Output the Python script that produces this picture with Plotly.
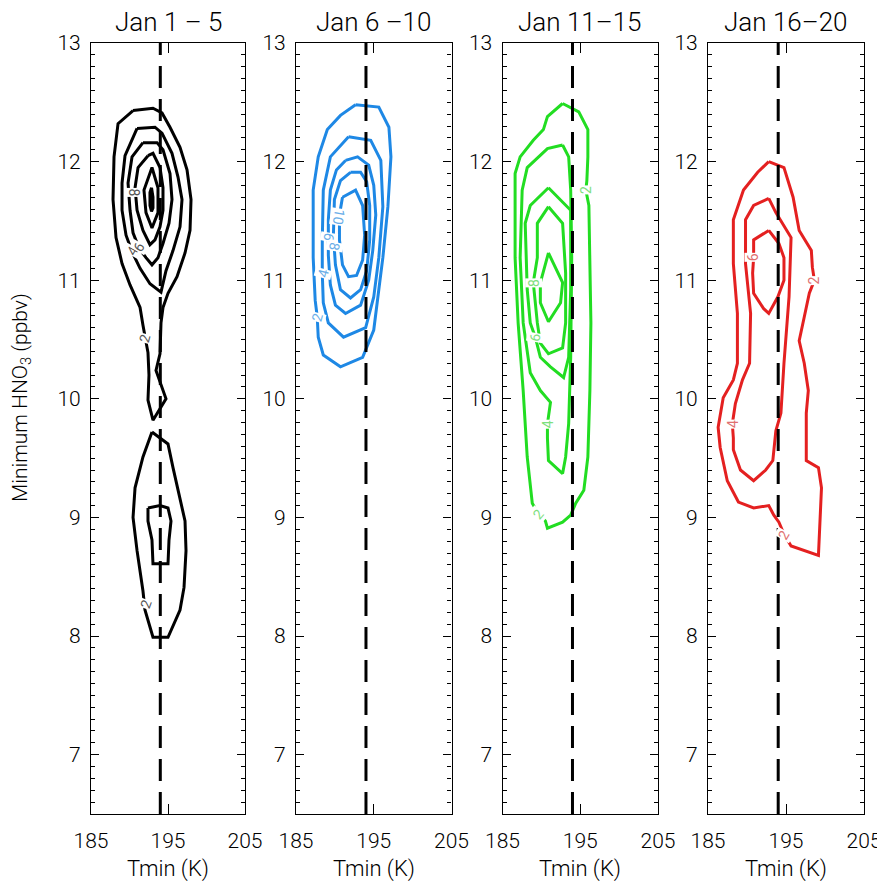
import plotly.graph_objects as go

# ---------------- data ----------------
PANEL_TITLES = ["Jan 1 \u2013 5", "Jan 6 \u201310", "Jan 11\u201315", "Jan 16\u201320"]
PANEL_COLORS = ["#000000", "#1e88e5", "#22dd22", "#e42020"]
LABEL_COLORS = ["#555555", "#6aaee8", "#7ee07e", "#e07070"]
T_RANGE = [185, 205]
HNO3_RANGE = [6.5, 13]
T_TICKS = [185, 195, 205]
HNO3_TICKS = [7, 8, 9, 10, 11, 12, 13]
T_REF = 194.0  # dashed reference temperature (K)

# ---- Panel 1 (Jan 1-5), upper lobe ----
P1_L2_UP_T = [190.46, 193.05, 194.22, 195.26, 196.56, 197.47, 197.99, 197.86, 197.21, 196.17, 195.00, 194.35,
              194.09, 193.96, 193.44, 194.74, 193.05, 192.40, 192.53, 192.40, 191.75, 191.37, 190.07, 189.03,
              188.25, 187.86, 187.99, 188.51]
P1_L2_UP_H = [12.43, 12.45, 12.41, 12.29, 12.12, 11.93, 11.68, 11.42, 11.23, 11.03, 10.89, 10.77,
              10.64, 10.38, 10.24, 10.00, 9.82, 9.99, 10.20, 10.39, 10.62, 10.77, 10.96, 11.14,
              11.36, 11.68, 12.04, 12.32]
P1_L4_T = [190.98, 193.31, 194.22, 195.52, 196.30, 196.82, 196.56, 195.65, 194.74, 194.09, 192.66, 191.37,
           190.33, 189.55, 189.03, 189.03, 189.42]
P1_L4_H = [12.28, 12.29, 12.24, 12.07, 11.87, 11.68, 11.45, 11.25, 11.08, 10.90, 10.97, 11.10,
           11.24, 11.38, 11.59, 11.82, 12.05]
P1_L6_T = [191.75, 193.57, 194.35, 195.26, 195.52, 195.13, 194.35, 193.70, 192.92, 192.14, 191.24, 190.46,
           190.07, 189.81, 190.33]
P1_L6_H = [12.16, 12.16, 12.10, 11.90, 11.68, 11.48, 11.31, 11.19, 11.13, 11.19, 11.27, 11.40,
           11.59, 11.82, 12.04]
P1_L8_T = [192.40, 193.05, 193.96, 194.35, 194.35, 193.96, 193.31, 192.66, 191.75, 190.98, 190.72, 191.11]
P1_L8_H = [12.05, 12.07, 11.95, 11.78, 11.59, 11.45, 11.34, 11.30, 11.42, 11.59, 11.78, 11.95]
P1_L10_T = [192.92, 193.70, 193.70, 192.92, 192.14, 191.88]
P1_L10_H = [11.95, 11.78, 11.57, 11.44, 11.57, 11.76]
P1_L12_T = [192.86, 193.05, 193.05, 192.86, 192.66, 192.66]
P1_L12_H = [11.78, 11.70, 11.61, 11.58, 11.63, 11.74]
# ---- Panel 1, lower lobe ----
P1_L2_LO_T = [192.92, 195.00, 195.65, 196.56, 197.21, 197.34, 197.08, 196.56, 195.00, 193.05, 192.66, 192.01,
              191.75, 190.98, 190.46, 190.72, 191.75]
P1_L2_LO_H = [9.72, 9.62, 9.42, 9.17, 8.97, 8.72, 8.41, 8.22, 7.99, 7.99, 8.07, 8.22,
              8.38, 8.72, 9.00, 9.25, 9.51]
P1_L4_LO_T = [192.40, 193.96, 195.00, 195.39, 195.13, 195.00, 193.05, 192.92, 192.40]
P1_L4_LO_H = [9.08, 9.10, 9.08, 8.97, 8.81, 8.61, 8.61, 8.81, 8.97]

# ---- Panel 2 (Jan 6-10) ----
P2_L2_T = [192.66, 195.65, 196.95, 197.21, 196.82, 196.17, 195.65, 195.00, 193.57, 190.72, 188.51, 187.86,
           187.73, 187.47, 187.21, 187.21, 187.86, 189.03, 190.72]
P2_L2_H = [12.48, 12.46, 12.29, 12.04, 11.62, 11.19, 10.92, 10.58, 10.35, 10.27, 10.37, 10.52,
           10.69, 10.83, 11.19, 11.76, 12.04, 12.27, 12.39]
P2_L4_T = [191.76, 194.61, 195.91, 196.17, 195.65, 195.00, 193.96, 191.11, 189.16, 188.51, 188.38, 188.38,
           188.51, 189.42]
P2_L4_H = [12.21, 12.18, 12.01, 11.62, 11.19, 10.86, 10.60, 10.52, 10.64, 10.81, 11.06, 11.34,
           11.76, 12.04]
P2_L6_T = [191.37, 192.92, 194.35, 195.00, 195.26, 194.87, 194.35, 193.31, 191.37, 190.07, 189.42, 189.16,
           189.16, 189.42, 190.20]
P2_L6_H = [12.01, 12.04, 11.97, 11.80, 11.55, 11.25, 11.00, 10.79, 10.72, 10.79, 10.96, 11.21,
           11.51, 11.76, 11.93]
P2_L8_T = [192.01, 193.31, 194.09, 194.48, 194.48, 194.09, 193.31, 192.01, 190.72, 190.07, 189.81, 189.94,
           190.72]
P2_L8_H = [11.91, 11.91, 11.83, 11.63, 11.34, 11.08, 10.92, 10.85, 10.92, 11.13, 11.38, 11.68,
           11.84]
P2_L10_T = [190.98, 192.66, 193.57, 193.83, 193.57, 192.79, 191.76, 190.98, 190.59, 190.59]
P2_L10_H = [11.70, 11.76, 11.63, 11.38, 11.17, 11.04, 11.03, 11.13, 11.34, 11.55]

# ---- Panel 3 (Jan 11-15) ----
P3_L2_T = [192.73, 194.81, 195.98, 195.98, 195.85, 195.72, 196.11, 196.24, 196.37, 196.24, 195.98, 195.46,
           194.42, 193.77, 192.73, 190.78, 190.52, 189.61, 188.83, 188.18, 187.66, 187.01, 186.62, 186.62,
           187.27, 188.96, 190.26, 190.78]
P3_L2_H = [12.49, 12.42, 12.27, 12.04, 11.84, 11.76, 11.63, 11.19, 10.64, 10.07, 9.51, 9.23,
           9.12, 9.02, 8.96, 8.91, 8.97, 9.03, 9.12, 9.51, 10.07, 10.64, 11.19, 11.90,
           12.04, 12.18, 12.27, 12.38]
P3_L4_T = [192.73, 190.78, 188.18, 187.53, 187.27, 187.66, 188.57, 189.87, 191.17, 190.78, 190.78, 190.91,
           192.73, 193.12, 193.51, 193.77, 193.90, 193.77, 193.51]
P3_L4_H = [12.14, 12.11, 11.95, 11.76, 11.19, 10.64, 10.22, 10.07, 9.97, 9.79, 9.67, 9.48,
           9.37, 9.51, 9.79, 10.35, 11.19, 11.76, 12.04]
P3_L6_T = [190.91, 193.77, 193.77, 193.51, 192.86, 191.17, 189.87, 189.22, 188.57, 188.18, 187.92, 188.57]
P3_L6_H = [11.78, 11.59, 10.92, 10.35, 10.18, 10.27, 10.35, 10.52, 10.64, 10.92, 11.48, 11.63]
P3_L8_T = [190.91, 192.73, 193.12, 193.12, 192.73, 190.91, 189.87, 189.48, 188.96, 189.48, 189.48]
P3_L8_H = [11.62, 11.48, 11.06, 10.64, 10.43, 10.38, 10.47, 10.64, 10.98, 11.19, 11.48]
P3_L10_T = [190.91, 192.73, 192.47, 190.91, 189.87, 189.87]
P3_L10_H = [11.23, 10.98, 10.81, 10.65, 10.81, 10.98]

# ---- Panel 4 (Jan 16-20) ----
P4_L2_T = [192.79, 194.74, 195.91, 196.69, 198.25, 198.38, 198.64, 197.99, 197.34, 196.69, 197.34, 197.86,
           197.60, 197.60, 199.16, 199.55, 199.16, 195.65, 194.74, 194.09, 193.44, 192.79, 190.85, 188.90,
           187.47, 186.56, 186.30, 186.95, 188.25, 188.77, 188.77, 188.25, 188.25, 189.55, 191.37]
P4_L2_H = [12.00, 11.95, 11.70, 11.42, 11.25, 11.11, 11.00, 10.89, 10.69, 10.49, 10.30, 10.07,
           9.88, 9.48, 9.42, 9.25, 8.68, 8.76, 8.86, 8.96, 9.02, 9.10, 9.08, 9.13,
           9.31, 9.59, 9.76, 10.01, 10.16, 10.30, 10.72, 11.14, 11.51, 11.76, 11.91]
P4_L4_T = [192.79, 193.70, 195.65, 195.39, 194.74, 194.35, 193.70, 193.31, 192.40, 190.85, 189.16, 188.25,
           188.25, 188.12, 188.51, 189.42, 190.33, 190.46, 189.81, 189.81, 190.85]
P4_L4_H = [11.69, 11.57, 11.36, 10.86, 10.30, 9.88, 9.73, 9.48, 9.40, 9.31, 9.40, 9.57,
           9.67, 9.79, 9.96, 10.16, 10.30, 10.72, 11.14, 11.51, 11.63]
P4_L6_T = [192.79, 194.09, 194.74, 194.74, 193.96, 192.79, 192.14, 190.85, 190.72, 190.85, 190.85]
P4_L6_H = [11.42, 11.31, 11.19, 11.00, 10.86, 10.72, 10.76, 10.89, 11.06, 11.19, 11.34]

# ---- contour labels (text, T, HNO3, angle) ----
P1_LAB_TEXT = ["8", "4", "6", "2", "2"]
P1_LAB_T = [190.46, 190.33, 191.24, 192.01, 192.14]
P1_LAB_H = [11.74, 11.25, 11.28, 10.51, 8.27]
P1_LAB_ANG = [90, -60, -60, -75, -70]
P2_LAB_TEXT = ["10", "6", "8", "4", "2"]
P2_LAB_T = [190.46, 189.29, 189.94, 188.51, 187.73]
P2_LAB_H = [11.53, 11.36, 11.28, 11.06, 10.69]
P2_LAB_ANG = [100, 100, 100, -75, -75]
P3_LAB_TEXT = ["2", "8", "6", "4", "2"]
P3_LAB_T = [195.72, 188.96, 189.22, 190.78, 189.61]
P3_LAB_H = [11.76, 10.98, 10.52, 9.79, 9.03]
P3_LAB_ANG = [-90, -90, -80, -90, -50]
P4_LAB_TEXT = ["6", "2", "4", "2"]
P4_LAB_T = [190.72, 198.64, 188.12, 194.74]
P4_LAB_H = [11.19, 11.00, 9.79, 8.85]
P4_LAB_ANG = [-90, -90, -90, -60]

PANEL_CONTOURS = [
    [(P1_L2_UP_T, P1_L2_UP_H), (P1_L4_T, P1_L4_H), (P1_L6_T, P1_L6_H), (P1_L8_T, P1_L8_H),
     (P1_L10_T, P1_L10_H), (P1_L12_T, P1_L12_H), (P1_L2_LO_T, P1_L2_LO_H), (P1_L4_LO_T, P1_L4_LO_H)],
    [(P2_L2_T, P2_L2_H), (P2_L4_T, P2_L4_H), (P2_L6_T, P2_L6_H), (P2_L8_T, P2_L8_H), (P2_L10_T, P2_L10_H)],
    [(P3_L2_T, P3_L2_H), (P3_L4_T, P3_L4_H), (P3_L6_T, P3_L6_H), (P3_L8_T, P3_L8_H), (P3_L10_T, P3_L10_H)],
    [(P4_L2_T, P4_L2_H), (P4_L4_T, P4_L4_H), (P4_L6_T, P4_L6_H)],
]
PANEL_LABELS = [
    (P1_LAB_TEXT, P1_LAB_T, P1_LAB_H, P1_LAB_ANG),
    (P2_LAB_TEXT, P2_LAB_T, P2_LAB_H, P2_LAB_ANG),
    (P3_LAB_TEXT, P3_LAB_T, P3_LAB_H, P3_LAB_ANG),
    (P4_LAB_TEXT, P4_LAB_T, P4_LAB_H, P4_LAB_ANG),
]

# ---------------- layout ----------------
OFF = 8                      # page body margin of the browser
W, H = 885 - OFF, 888 - OFF  # figure size so that it fits the window
X_DOMAINS = [(91, 245), (296, 451.5), (502.5, 658), (708, 864)]  # target page pixels
Y_TOP, Y_BOT = 43, 814
FONT = "Roboto"
FW = 300


def px(xp):
    return (xp - OFF) / W


def py(yp):
    return 1 - (yp - OFF) / H


fig = go.Figure()
annotations = []

for i in range(4):
    n = "" if i == 0 else str(i + 1)
    xa, ya = "x" + n, "y" + n
    col = PANEL_COLORS[i]
    for (tt, hh) in PANEL_CONTOURS[i]:
        fig.add_trace(go.Scatter(x=list(tt) + [tt[0]], y=list(hh) + [hh[0]], mode="lines",
                                 line=dict(color=col, width=3), xaxis=xa, yaxis=ya,
                                 showlegend=False, hoverinfo="skip"))
    # dashed reference line
    fig.add_trace(go.Scatter(x=[T_REF, T_REF], y=HNO3_RANGE, mode="lines",
                             line=dict(color="black", width=3, dash="22px,11px"),
                             xaxis=xa, yaxis=ya, showlegend=False, hoverinfo="skip"))
    txt, lt, lh, la = PANEL_LABELS[i]
    for s, t, h, a in zip(txt, lt, lh, la):
        annotations.append(dict(x=t, y=h, xref=xa, yref=ya, text=s, showarrow=False,
                                xanchor="center", yanchor="middle",
                                textangle=a, bgcolor="white", borderpad=0,
                                font=dict(family=FONT, size=14, color=LABEL_COLORS[i])))
    x0, x1 = X_DOMAINS[i]
    axcommon = dict(showline=True, linecolor="black", linewidth=1.2, mirror="allticks",
                    ticks="inside", tickcolor="black", showgrid=False, zeroline=False,
                    automargin=False)
    fig.layout["xaxis" + n] = dict(domain=[px(x0), px(x1)], range=T_RANGE, tickvals=T_TICKS,
                                   ticklen=10, tickwidth=1.2, anchor=ya, ticklabelstandoff=8,
                                   tickfont=dict(family=FONT, size=21, color="black", weight=FW),
                                   **axcommon)
    fig.layout["yaxis" + n] = dict(domain=[py(Y_BOT), py(Y_TOP)], range=HNO3_RANGE,
                                   tickvals=HNO3_TICKS, ticklen=8, tickwidth=1.2, anchor=xa,
                                   ticklabelstandoff=5,
                                   tickfont=dict(family=FONT, size=21, color="black", weight=FW),
                                   minor=dict(dtick=0.1, ticklen=4, tickwidth=1, ticks="inside",
                                              tickcolor="black"),
                                   **axcommon)
    cx = px((x0 + x1) / 2)
    annotations.append(dict(x=cx, y=py(22), xref="paper", yref="paper", text=PANEL_TITLES[i],
                            showarrow=False, xanchor="center", yanchor="middle",
                            font=dict(family=FONT, size=26, color="black", weight=FW)))
    annotations.append(dict(x=cx, y=py(869), xref="paper", yref="paper", text="Tmin (K)",
                            showarrow=False, xanchor="center", yanchor="middle",
                            font=dict(family=FONT, size=22, color="black", weight=FW)))

annotations.append(dict(x=px(22), y=py(398), xref="paper", yref="paper",
                        text="Minimum HNO<sub>3</sub> (ppbv)", textangle=-90, showarrow=False,
                        xanchor="center", yanchor="middle",
                        font=dict(family=FONT, size=21, color="black", weight=FW)))

fig.update_layout(template="none", width=W, height=H,
                  margin=dict(l=0, r=0, t=0, b=0, autoexpand=False),
                  paper_bgcolor="white", plot_bgcolor="white", annotations=annotations,
                  showlegend=False)

fig.write_html("out.html")
